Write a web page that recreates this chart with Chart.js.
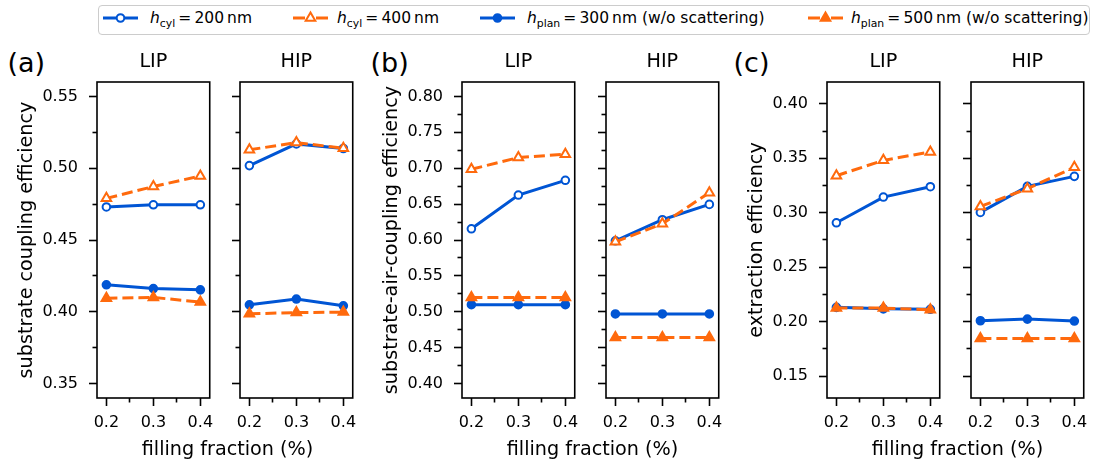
<!DOCTYPE html>
<html lang="en">
<head>
<meta charset="utf-8">
<title>Coupling and extraction efficiency vs filling fraction</title>
<script src="https://cdn.jsdelivr.net/npm/chart.js@4.4.0/dist/chart.umd.min.js"></script>
<style>
  body { margin: 0; background: #fff; color: #000; font-family: 'DejaVu Sans', sans-serif; }
  #figure { position: relative; width: 1093px; height: 464px; overflow: hidden; }
  #figure canvas { position: absolute; top: 40px; }
  .legend-box { position: absolute; left: 98px; top: 5px; width: 992px; height: 30px; box-sizing: border-box;
                border: 1px solid #cccccc; border-radius: 4px; }
  .swatch { position: absolute; top: 10px; }
  .entry { position: absolute; top: 11px; font-size: 15.5px; line-height: 15.5px; white-space: nowrap; }
  .entry i { font-style: italic; }
  .entry sub { font-size: 70%; vertical-align: -4px; line-height: 0; }
  .tag { position: absolute; top: 49px; font-size: 27px; line-height: 27px; }
  .xlabel { position: absolute; top: 439px; font-size: 19.2px; line-height: 19.2px; white-space: nowrap;
            transform: translateX(-50%); }
</style>
</head>
<body>
<div id="figure">
  <div class="legend-box"></div>

  <svg class="swatch" style="left:103px" width="35" height="16">
    <line x1="0" y1="8" x2="35" y2="8" stroke="#0055d4" stroke-width="3"/>
    <circle cx="17.5" cy="8" r="3.8" fill="#fff" stroke="#0055d4" stroke-width="2"/>
  </svg>
  <div class="entry" style="left:150px"><i>h</i><sub>cyl</sub>&#8201;=&#8201;200&#8201;nm</div>

  <svg class="swatch" style="left:293px" width="35" height="16">
    <line x1="0" y1="8" x2="35" y2="8" stroke="#ff6a0d" stroke-width="3" stroke-dasharray="12,11,12"/>
    <polygon points="17.5,2.5 12.7,10.8 22.3,10.8" fill="#fff" stroke="#ff6a0d" stroke-width="2"/>
  </svg>
  <div class="entry" style="left:337px"><i>h</i><sub>cyl</sub>&#8201;=&#8201;400&#8201;nm</div>

  <svg class="swatch" style="left:480px" width="35" height="16">
    <line x1="0" y1="8" x2="35" y2="8" stroke="#0055d4" stroke-width="3"/>
    <circle cx="17.5" cy="8" r="3.8" fill="#0055d4" stroke="#0055d4" stroke-width="2"/>
  </svg>
  <div class="entry" style="left:527px"><i>h</i><sub>plan</sub>&#8201;=&#8201;300&#8201;nm (w/o scattering)</div>

  <svg class="swatch" style="left:808px" width="35" height="16">
    <line x1="0" y1="8" x2="35" y2="8" stroke="#ff6a0d" stroke-width="3" stroke-dasharray="12,11,12"/>
    <polygon points="17.5,2.5 12.7,10.8 22.3,10.8" fill="#ff6a0d" stroke="#ff6a0d" stroke-width="2"/>
  </svg>
  <div class="entry" style="left:851px"><i>h</i><sub>plan</sub>&#8201;=&#8201;500&#8201;nm (w/o scattering)</div>

  <div class="tag" style="left:7.5px">(a)</div>
  <div class="tag" style="left:370.5px">(b)</div>
  <div class="tag" style="left:733.5px">(c)</div>

  <canvas id="subLIP"></canvas>
  <canvas id="subHIP"></canvas>
  <canvas id="airLIP"></canvas>
  <canvas id="airHIP"></canvas>
  <canvas id="extLIP"></canvas>
  <canvas id="extHIP"></canvas>

  <div class="xlabel" style="left:227.5px">filling fraction (%)</div>
  <div class="xlabel" style="left:592.5px">filling fraction (%)</div>
  <div class="xlabel" style="left:957.5px">filling fraction (%)</div>
</div>

<script>
// filling fraction on the x axis, shared by every panel
const fillingFraction = [0.2, 0.3, 0.4];
const xTicks = [0.2, 0.3, 0.4];
const xMinorTicks = [0.25, 0.35];
const xRange = [0.18, 0.42];

const seriesLabels = ['h_cyl = 200 nm', 'h_cyl = 400 nm',
                      'h_plan = 300 nm (w/o scattering)', 'h_plan = 500 nm (w/o scattering)'];

// (a) substrate coupling efficiency
const subLIP_cyl200 = [0.4730, 0.4745, 0.4745];
const subLIP_cyl400 = [0.4790, 0.4872, 0.4946];
const subLIP_plan300 = [0.4188, 0.4162, 0.4153];
const subLIP_plan500 = [0.4095, 0.4100, 0.4068];
const subHIP_cyl200 = [0.5018, 0.5169, 0.5137];
const subHIP_cyl400 = [0.5128, 0.5178, 0.5139];
const subHIP_plan300 = [0.4049, 0.4089, 0.4042];
const subHIP_plan500 = [0.3986, 0.3995, 0.3998];
const subTicks = [0.35, 0.40, 0.45, 0.50, 0.55];
const subMinorTicks = [0.375, 0.425, 0.475, 0.525];
const subRange = [0.34, 0.56];

// (b) substrate-air-coupling efficiency
const airLIP_cyl200 = [0.6156, 0.6626, 0.6831];
const airLIP_cyl400 = [0.6985, 0.7148, 0.7194];
const airLIP_plan300 = [0.5100, 0.5100, 0.5100];
const airLIP_plan500 = [0.5200, 0.5200, 0.5200];
const airHIP_cyl200 = [0.5989, 0.6282, 0.6496];
const airHIP_cyl400 = [0.5975, 0.6226, 0.6659];
const airHIP_plan300 = [0.4970, 0.4970, 0.4970];
const airHIP_plan500 = [0.4643, 0.4643, 0.4643];
const airTicks = [0.40, 0.45, 0.50, 0.55, 0.60, 0.65, 0.70, 0.75, 0.80];
const airMinorTicks = [0.425, 0.475, 0.525, 0.575, 0.625, 0.675, 0.725, 0.775];
const airRange = [0.38, 0.82];

// (c) extraction efficiency
const extLIP_cyl200 = [0.2908, 0.3144, 0.3239];
const extLIP_cyl400 = [0.3340, 0.3481, 0.3558];
const extLIP_plan300 = [0.2132, 0.2118, 0.2114];
const extLIP_plan500 = [0.2125, 0.2125, 0.2110];
const extHIP_cyl200 = [0.3003, 0.3242, 0.3334];
const extHIP_cyl400 = [0.3058, 0.3221, 0.3417];
const extHIP_plan300 = [0.2009, 0.2024, 0.2006];
const extHIP_plan500 = [0.1847, 0.1847, 0.1847];
const extTicks = [0.15, 0.20, 0.25, 0.30, 0.35, 0.40];
const extMinorTicks = [0.175, 0.225, 0.275, 0.325, 0.375];
const extRange = [0.13, 0.42];

const BLUE = '#0055d4';
const ORANGE = '#ff6a0d';
const FONT = 'DejaVu Sans';

Chart.defaults.font.family = FONT;
Chart.defaults.color = '#000';

const PLOT_W = 117.5;
const PLOT_TOP = 42;     // relative to the canvas top (canvas sits at 40px)
const AXIS_H = 40;

// black box around the plotting area, like matplotlib spines
const framePlugin = {
    id: 'frame',
    afterDatasetsDraw(chart) {
        const { ctx, chartArea } = chart;
        ctx.save();
        ctx.strokeStyle = '#000';
        ctx.lineWidth = 1.6;
        ctx.strokeRect(chartArea.left, chartArea.top, chartArea.right - chartArea.left, chartArea.bottom - chartArea.top);
        ctx.restore();
    }
};

function toPoints(values) {
    return fillingFraction.map((x, i) => ({ x: x, y: values[i] }));
}

function series(label, values, color, style, filled, dashed, order) {
    return {
        label: label,
        data: toPoints(values),
        borderColor: color,
        backgroundColor: color,
        borderWidth: 3,
        borderDash: dashed ? [11, 5] : [],
        pointStyle: style,
        pointRadius: style === 'triangle' ? 5.5 : 3.8,
        pointBorderWidth: 2,
        pointBorderColor: color,
        pointBackgroundColor: filled ? color : '#fff',
        order: order
    };
}

function tickAxis(position, range, values, length, weight, size, labelFn, padding) {
    const horizontal = position === 'bottom';
    return {
        type: 'linear',
        position: position,
        min: range[0],
        max: range[1],
        weight: weight,
        afterBuildTicks: (scale) => { scale.ticks = values.map(v => ({ value: v })); },
        afterFit: (scale) => { if (horizontal) scale.height = size; else scale.width = size; },
        ticks: {
            callback: labelFn,
            autoSkip: false,
            maxRotation: 0,
            padding: padding,
            color: '#000',
            font: { family: FONT, size: 16 }
        },
        grid: { drawOnChartArea: false, tickLength: length, tickWidth: 1.6, tickColor: '#000' },
        border: { display: false }
    };
}

function buildChart(canvasId, plotLeft, title, yTitle, yRange, yTicks, yMinor, c200, c400, p300, p500) {
    const yW = yTitle ? 97 : 22;
    const canvas = document.getElementById(canvasId);
    canvas.width = yW + 124;
    canvas.height = 398;
    canvas.style.left = (plotLeft - yW) + 'px';

    const yLabels = yTitle ? (v => v.toFixed(2)) : (() => '');
    const yMajor = tickAxis('left', yRange, yTicks, 8, 1, yW, yLabels, 11);
    if (yTitle) {
        yMajor.title = {
            display: true,
            text: yTitle,
            color: '#000',
            font: { family: FONT, size: 19.2 },
            padding: { top: 15.5, bottom: 0 }
        };
    }

    const config = {
        type: 'line',
        data: {
            datasets: [
                series(seriesLabels[0], c200, BLUE, 'circle', false, false, 3),
                series(seriesLabels[1], c400, ORANGE, 'triangle', false, true, 2),
                series(seriesLabels[2], p300, BLUE, 'circle', true, false, 1),
                series(seriesLabels[3], p500, ORANGE, 'triangle', true, true, 0)
            ]
        },
        options: {
            responsive: false,
            animation: false,
            events: [],
            layout: { padding: { left: 0, top: 0, right: 124 - PLOT_W, bottom: 0 } },
            plugins: {
                legend: { display: false },
                tooltip: { enabled: false },
                title: {
                    display: true,
                    text: title,
                    fullSize: false,
                    color: '#000',
                    font: { family: FONT, size: 19.2, weight: 'normal' },
                    padding: { top: 10, bottom: PLOT_TOP - 10 - 19.2 * 1.2 }
                }
            },
            scales: {
                x: tickAxis('bottom', xRange, xTicks, 8, 1, AXIS_H, v => v.toFixed(1), 7),
                xMinor: tickAxis('bottom', xRange, xMinorTicks, 4.5, 0, 0, () => '', 0),
                y: yMajor,
                yMinor: tickAxis('left', yRange, yMinor, 4.5, 0, 0, () => '', 0)
            }
        },
        plugins: [framePlugin]
    };
    return new Chart(canvas.getContext('2d'), config);
}

buildChart('subLIP', 97, 'LIP', 'substrate coupling efficiency', subRange, subTicks, subMinorTicks,
    subLIP_cyl200, subLIP_cyl400, subLIP_plan300, subLIP_plan500);
buildChart('subHIP', 240, 'HIP', null, subRange, subTicks, subMinorTicks,
    subHIP_cyl200, subHIP_cyl400, subHIP_plan300, subHIP_plan500);

buildChart('airLIP', 462, 'LIP', 'substrate-air-coupling efficiency', airRange, airTicks, airMinorTicks,
    airLIP_cyl200, airLIP_cyl400, airLIP_plan300, airLIP_plan500);
buildChart('airHIP', 606, 'HIP', null, airRange, airTicks, airMinorTicks,
    airHIP_cyl200, airHIP_cyl400, airHIP_plan300, airHIP_plan500);

buildChart('extLIP', 827, 'LIP', 'extraction efficiency', extRange, extTicks, extMinorTicks,
    extLIP_cyl200, extLIP_cyl400, extLIP_plan300, extLIP_plan500);
buildChart('extHIP', 971, 'HIP', null, extRange, extTicks, extMinorTicks,
    extHIP_cyl200, extHIP_cyl400, extHIP_plan300, extHIP_plan500);
</script>
</body>
</html>
